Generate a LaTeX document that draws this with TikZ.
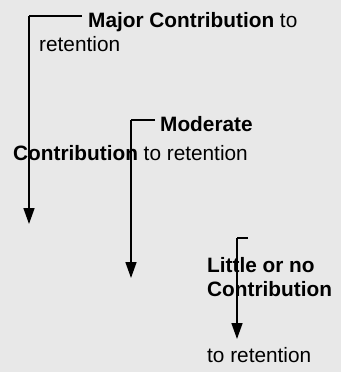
\documentclass[tikz,border=0pt]{standalone}
\usepackage{fontspec}
\setmainfont{Liberation Sans}
\usetikzlibrary{arrows.meta}

\tikzset{
  lbl/.style={anchor=base west, inner sep=0pt, font=\fontsize{20.8bp}{24bp}\selectfont},
  level arrow/.style={line width=1.6bp, -{Triangle[width=11bp,length=16bp]}},
}

\begin{document}
\begin{tikzpicture}[x=1bp, y=-1bp]
  \fill[gray!18] (0,0) rectangle (341,372);
  \useasboundingbox (0,0) rectangle (341,372);

  % major
  \coordinate (major end) at (82,16);
  \coordinate (major top) at (29,16);
  \coordinate (major tip) at (29,224);
  \draw[line width=1.6bp] (major end) -- (major top);
  \draw[level arrow] (major top) -- (major tip);
  \node[lbl] (major a) at (88,27) {\textbf{Major Contribution} to};
  \node[lbl] (major b) at (39,51) {retention};

  % moderate
  \coordinate (moderate end) at (155,120);
  \coordinate (moderate top) at (131,120);
  \coordinate (moderate tip) at (131,278);
  \draw[line width=1.6bp] (moderate end) -- (moderate top);
  \draw[level arrow] (moderate top) -- (moderate tip);
  \node[lbl] (moderate a) at (160,131) {\textbf{Moderate}};
  \node[lbl] (moderate b) at (13,160) {\textbf{Contribution} to retention};

  % little
  \coordinate (little end) at (248,238);
  \coordinate (little top) at (237,238);
  \coordinate (little tip) at (237,339);
  \draw[line width=1.6bp] (little end) -- (little top);
  \draw[level arrow] (little top) -- (little tip);
  \node[lbl] (little a) at (207,272) {\textbf{Little or no}};
  \node[lbl] (little b) at (207,296) {\textbf{Contribution}};
  \node[lbl] (little c) at (207,362) {to retention};
\end{tikzpicture}
\end{document}
